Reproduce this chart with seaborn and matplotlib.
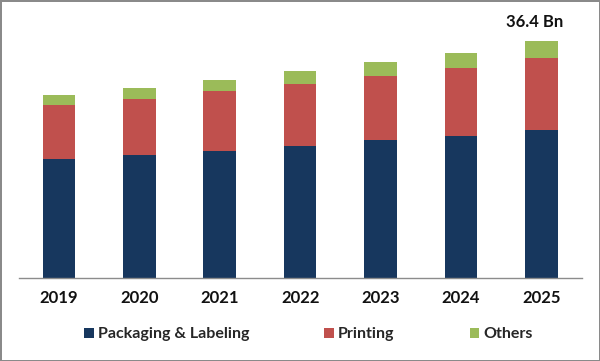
import numpy as np
import pandas as pd
import matplotlib
matplotlib.use("Agg")
import matplotlib.pyplot as plt
import seaborn as sns
from matplotlib.patches import Patch

# data (USD Bn)
years = ["2019", "2020", "2021", "2022", "2023", "2024", "2025"]
packaging = [18.3, 18.9, 19.5, 20.3, 21.1, 21.8, 22.7]
printing = [8.2, 8.6, 9.2, 9.5, 9.9, 10.5, 11.0]
others = [1.6, 1.7, 1.7, 2.0, 2.1, 2.3, 2.7]
total_label = "36.4 Bn"

colors = {"Packaging & Labeling": "#17375E", "Printing": "#C0504D", "Others": "#9BBB59"}

df = pd.DataFrame({"year": years, "Packaging & Labeling": packaging,
                   "Printing": printing, "Others": others})
df["lvl1"] = df["Packaging & Labeling"]
df["lvl2"] = df["lvl1"] + df["Printing"]
df["lvl3"] = df["lvl2"] + df["Others"]

sns.set_style("white")
plt.rcParams["font.family"] = ["Lato", "DejaVu Sans"]

fig = plt.figure(figsize=(6, 3.61), dpi=100)
ax = fig.add_axes([0.031, 0.23, 0.9385, 0.722])

# layered bars -> stacked look
for col, name in [("lvl3", "Others"), ("lvl2", "Printing"), ("lvl1", "Packaging & Labeling")]:
    sns.barplot(data=df, x="year", y=col, color=colors[name], width=0.405,
                saturation=1, linewidth=0, edgecolor="none", ax=ax)

ax.set_xlim(-0.5, 6.5)
ax.set_ylim(0, 40)
ax.set_xlabel("")
ax.set_ylabel("")
ax.set_yticks([])

for s in ["top", "right", "left"]:
    ax.spines[s].set_visible(False)
ax.spines["bottom"].set_color("#8C8C8C")
ax.spines["bottom"].set_linewidth(1)

ax.set_xticks(range(len(years)))
ax.set_xticklabels(years, fontsize=12, fontweight="bold", color="#111111")
ax.tick_params(axis="x", which="major", length=0, pad=9)
ax.set_xticks(np.arange(-0.5, 7, 1), minor=True)
ax.tick_params(axis="x", which="minor", length=5, color="#8C8C8C", width=1)

ax.annotate(total_label, xy=(6, df["lvl3"].iloc[-1]), xytext=(-5, 8),
            textcoords="offset points", ha="center", va="bottom",
            fontsize=12, fontweight="bold", color="#111111")

handles = [Patch(facecolor=c, edgecolor="none", label=k) for k, c in colors.items()]
fig.legend(handles=handles, loc="center", bbox_to_anchor=(0.514, 0.074), ncol=3,
           frameon=False, handlelength=0.6, handleheight=0.6, handletextpad=0.25,
           columnspacing=4.7, prop={"family": ["Lato", "DejaVu Sans"],
                                    "weight": "bold", "size": 11.5})

fig.patch.set_edgecolor("#8A8A8A")
fig.patch.set_linewidth(2)

fig.savefig("out.png", dpi=100)
